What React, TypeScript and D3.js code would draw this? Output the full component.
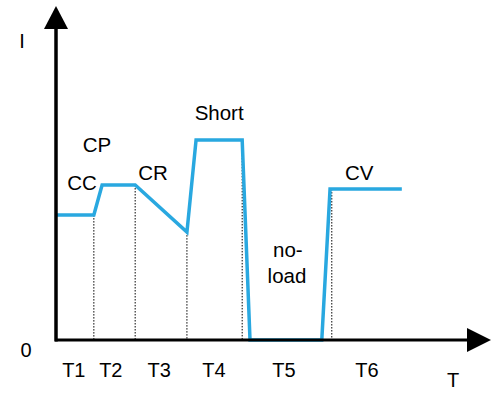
import * as d3 from "d3";

const WIDTH = 496;
const HEIGHT = 396;
const ORIGIN = { x: 56, y: 340 };
const LINE_COLOR = "#29a8e0";
const FONT = "'Liberation Sans', Arial, sans-serif";

// current waveform (time, current) in arbitrary units
const waveT = [0, 8.7, 10.6, 18.2, 30.1, 32.2, 42.8, 44.6, 61.1, 63.0, 79.5];
const waveI = [37.4, 37.4, 46.4, 46.4, 32.3, 59.9, 59.9, 0, 0, 45.2, 45.2];

// dotted phase boundaries
const boundT = [8.7, 18.2, 30.1, 42.8, 63.4];
const boundI = [37.4, 46.4, 32.3, 59.9, 45.2];

// mode labels
const modeNames = ["CC", "CP", "CR", "Short", "CV", "no-", "load"];
const modeT = [6.0, 9.4, 22.3, 37.5, 69.7, 53.3, 53.1];
const modeI = [44.9, 56.3, 47.9, 65.9, 47.9, 24.9, 17.1];

// period labels under the time axis
const periodNames = ["T1", "T2", "T3", "T4", "T5", "T6"];
const periodT = [4.1, 12.6, 23.7, 36.3, 52.4, 71.5];

export default function App() {
  const x = d3.scaleLinear().domain([0, 100]).range([ORIGIN.x, 491]);
  const y = d3.scaleLinear().domain([0, 100]).range([ORIGIN.y, 6]);

  const line = d3
    .line<number>()
    .x((t) => x(t))
    .y((_, i) => y(waveI[i]));

  const xTip = x(100);
  const yTip = y(100);

  return (
    <svg
      width={WIDTH}
      height={HEIGHT}
      style={{ position: "absolute", left: 0, top: 0, background: "#fff" }}
      fontFamily={FONT}
    >
      {/* dotted phase boundaries */}
      {boundT.map((t, i) => (
        <line
          key={i}
          x1={x(t)}
          x2={x(t)}
          y1={y(boundI[i])}
          y2={ORIGIN.y}
          stroke="#000"
          strokeWidth={1}
          strokeDasharray="1.5,1.5"
        />
      ))}

      {/* waveform */}
      <path
        d={line(waveT) ?? ""}
        fill="none"
        stroke={LINE_COLOR}
        strokeWidth={3.5}
        strokeLinejoin="miter"
      />

      {/* axes */}
      <line x1={ORIGIN.x} x2={ORIGIN.x} y1={ORIGIN.y + 1.5} y2={yTip + 22} stroke="#000" strokeWidth={3.5} />
      <polygon
        points={`${ORIGIN.x},${yTip} ${ORIGIN.x - 12},${yTip + 23} ${ORIGIN.x + 12},${yTip + 23}`}
        fill="#000"
      />
      <line x1={ORIGIN.x - 1} x2={xTip - 22} y1={ORIGIN.y} y2={ORIGIN.y} stroke="#000" strokeWidth={3} />
      <polygon
        points={`${xTip},${ORIGIN.y} ${xTip - 24},${ORIGIN.y - 12} ${xTip - 24},${ORIGIN.y + 12}`}
        fill="#000"
      />

      {/* axis labels */}
      <text x={22} y={48} fontSize={20} textAnchor="middle">I</text>
      <text x={26} y={357} fontSize={20} textAnchor="middle">0</text>
      <text x={453} y={387} fontSize={20} textAnchor="middle">T</text>

      {periodNames.map((n, i) => (
        <text key={n} x={x(periodT[i])} y={377} fontSize={20} textAnchor="middle">
          {n}
        </text>
      ))}

      {modeNames.map((n, i) => (
        <text key={n} x={x(modeT[i])} y={y(modeI[i])} fontSize={20.5} textAnchor="middle">
          {n}
        </text>
      ))}
    </svg>
  );
}
